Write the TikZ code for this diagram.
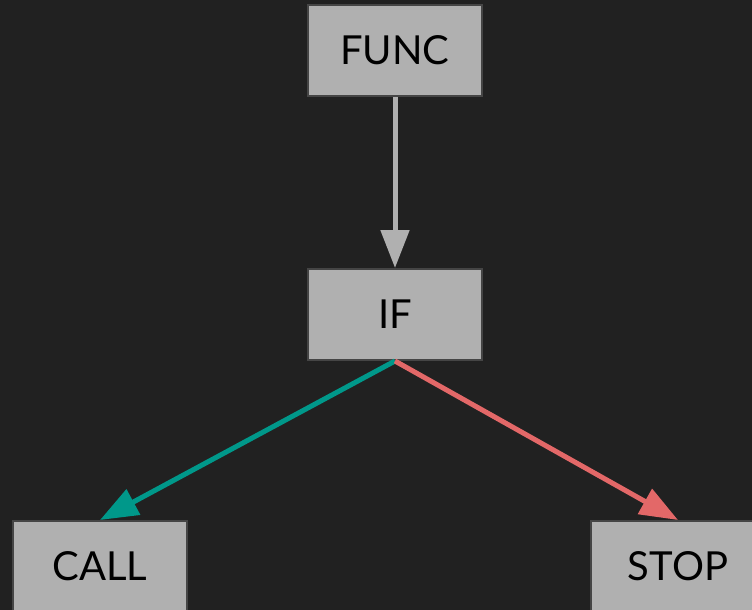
\documentclass[tikz,border=0pt]{standalone}
\usepackage{fontspec}
\setmainfont{Lato}
\usetikzlibrary{arrows.meta, positioning}
\definecolor{bgdark}{HTML}{212121}
\definecolor{boxfill}{HTML}{B0B0B0}
\definecolor{boxedge}{HTML}{454545}
\definecolor{yesgreen}{HTML}{00988A}
\definecolor{nored}{HTML}{E36868}
\tikzset{
    block/.style={rectangle, draw=boxedge, line width=2pt, fill=boxfill, align=center, minimum width=174pt, minimum height=91pt, text=black, font=\fontsize{40}{48}\selectfont},
    arrow/.style={line width=5pt, -{Triangle[length=38pt, width=28pt]}}
}

\begin{document}
\begin{tikzpicture}[node distance=171pt]
            \fill[bgdark] (0,0) rectangle (752pt,-610pt);
            \useasboundingbox (0,0) rectangle (752pt,-610pt);

            \node[block] (func) at (395pt,-50.5pt) {FUNC};
            \node[block, below=of func] (if) {IF};
            \node[block, below left=159pt and 119pt of if] (call) {CALL};
            \node[block, below right=159pt and 107pt of if] (stop) {STOP};

            \draw[arrow, boxfill] (func) -- (if);
            \draw[arrow, yesgreen] (if.south) -- (call.north);
            \draw[arrow, nored] (if.south) -- (stop.north);
        \end{tikzpicture}
\end{document}
